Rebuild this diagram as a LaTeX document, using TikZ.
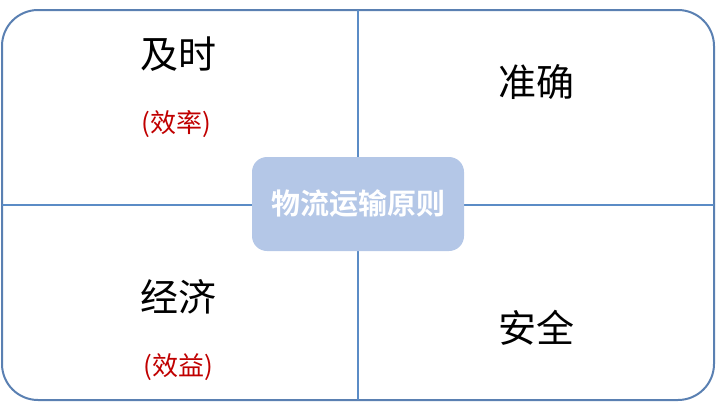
\documentclass[tikz,border=0pt]{standalone}
\usepackage{fontspec}
\setmainfont{Noto Sans CJK SC}
\newfontfamily\cjkbold{Noto Sans CJK SC Bold}
\definecolor{frameblue}{HTML}{5A80B2}
\definecolor{lineblue}{HTML}{5B8CC6}
\definecolor{coreblue}{HTML}{B4C7E7}
\definecolor{notered}{HTML}{C00000}

\begin{document}
\begin{tikzpicture}[x=1pt, y=-1pt,
  every node/.style = {align=center, inner sep=0pt},
  aim/.style = {font=\fontsize{38}{42}\selectfont, text=black},
  note/.style = {font=\fontsize{26}{29}\selectfont, text=notered},
  core/.style = {shape=rectangle, rounded corners=15pt, fill=coreblue,
    minimum width=212pt, minimum height=94pt,
    font=\cjkbold\fontsize{29}{32}\selectfont, text=white}]
  \useasboundingbox (0,0) rectangle (716,410);
  % frame
  \draw[frameblue, line width=2pt, rounded corners=36pt] (2,10) rectangle (714,400);
  \coordinate (top) at (358,10);
  \coordinate (bottom) at (358,400);
  \coordinate (left) at (2,205);
  \coordinate (right) at (714,205);
  % quadrant lines
  \draw[lineblue, line width=1.5pt] (top) -- (bottom);
  \draw[lineblue, line width=1.5pt] (left) -- (right);
  \node[core] (principle) at (358,204) {物流运输原则};
  % four principles
  \node[aim] (timely) at (178,54) {及时};
  \node[note] (efficiency) at (176,124) {(效率)};
  \node[aim] (accurate) at (536,82) {准确};
  \node[aim] (economy) at (178,297) {经济};
  \node[note] (benefit) at (178,367) {(效益)};
  \node[aim] (safe) at (536,328) {安全};
\end{tikzpicture}
\end{document}
